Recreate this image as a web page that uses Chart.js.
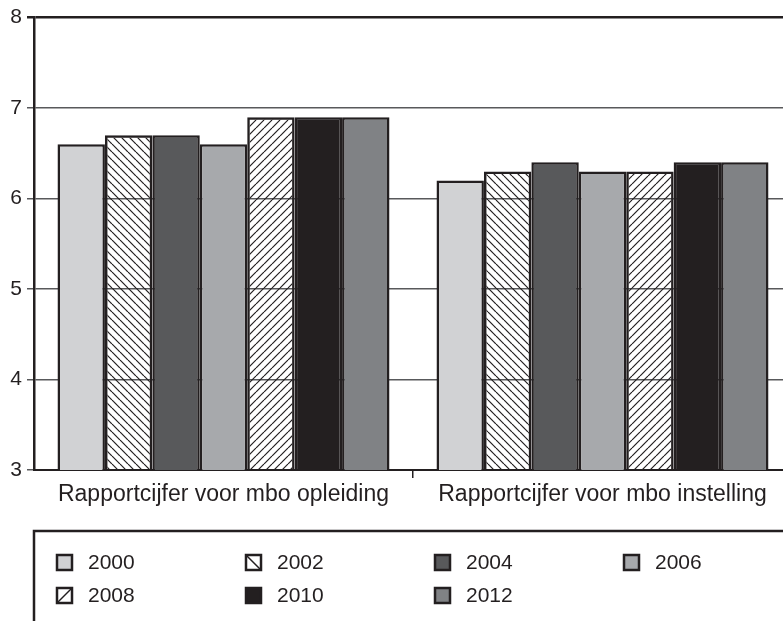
<!DOCTYPE html>
<html>
<head>
<meta charset="utf-8">
<script src="https://cdn.jsdelivr.net/npm/chart.js@4"></script>
<style>
  html, body { margin: 0; padding: 0; background: #fff; overflow: hidden; }
  #wrap { width: 800px; height: 621px; }
</style>
</head>
<body>
<div id="wrap"><canvas id="chart" width="800" height="621"></canvas></div>
<script>
// data
const categories = ['Rapportcijfer voor mbo opleiding', 'Rapportcijfer voor mbo instelling'];
const years = ['2000', '2002', '2004', '2006', '2008', '2010', '2012'];
const opleiding = [6.6, 6.7, 6.7, 6.6, 6.9, 6.9, 6.9];
const instelling = [6.2, 6.3, 6.4, 6.3, 6.3, 6.4, 6.4];
const yTicks = [3, 4, 5, 6, 7, 8];

// styles per year
const fills = ['#d1d2d4', 'back', '#58595b', '#a7a9ac', 'fwd', '#231f20', '#808285'];
const ink = '#231f20';
const font = '"Liberation Sans", Arial, sans-serif';

function hatch(dir) {
  const s = 8;
  const c = document.createElement('canvas');
  c.width = s; c.height = s;
  const g = c.getContext('2d');
  g.strokeStyle = ink;
  g.lineWidth = 1.2;
  for (let k = -1; k <= 1; k++) {
    g.beginPath();
    if (dir === 'back') {
      g.moveTo(k * s, 0); g.lineTo(k * s + s, s);
    } else {
      g.moveTo(k * s, s); g.lineTo(k * s + s, 0);
    }
    g.stroke();
  }
  return g.createPattern(c, 'repeat');
}

function fillFor(f) {
  return (f === 'back' || f === 'fwd') ? hatch(f) : f;
}

const datasets = years.map((y, i) => ({
  label: y,
  data: [opleiding[i], instelling[i]],
  backgroundColor: fillFor(fills[i]),
  borderColor: ink,
  borderWidth: 2.5,
  borderSkipped: false,
  barPercentage: 1,
  categoryPercentage: 0.876
}));

const legendBox = {
  id: 'legendBox',
  afterDraw(chart) {
    const ctx = chart.ctx;
    const left = chart.chartArea.left;
    const top = 531;
    ctx.save();
    ctx.strokeStyle = ink;
    ctx.lineWidth = 2.5;
    ctx.beginPath();
    ctx.moveTo(left, chart.height + 5);
    ctx.lineTo(left, top);
    ctx.lineTo(chart.width + 5, top);
    ctx.stroke();

    ctx.font = '21px ' + font;
    ctx.textBaseline = 'middle';
    ctx.textAlign = 'left';
    years.forEach((y, i) => {
      const col = i % 4, row = Math.floor(i / 4);
      const x = 56 + col * 189;
      const cy = 562.5 + row * 33;
      const sz = 15;
      const bx = x + 1, by = cy - sz / 2;
      const f = fills[i];
      if (f === 'back' || f === 'fwd') {
        ctx.fillStyle = '#fff';
        ctx.fillRect(bx, by, sz, sz);
        ctx.beginPath();
        ctx.lineWidth = 1.5;
        if (f === 'back') { ctx.moveTo(bx, by); ctx.lineTo(bx + sz, by + sz); }
        else { ctx.moveTo(bx, by + sz); ctx.lineTo(bx + sz, by); }
        ctx.stroke();
      } else {
        ctx.fillStyle = f;
        ctx.fillRect(bx, by, sz, sz);
      }
      ctx.lineWidth = 2.5;
      ctx.strokeRect(bx, by, sz, sz);
      ctx.fillStyle = ink;
      ctx.fillText(y, x + 32, cy + 1);
    });
    ctx.restore();
  }
};

new Chart(document.getElementById('chart'), {
  type: 'bar',
  data: { labels: categories, datasets: datasets },
  plugins: [legendBox],
  options: {
    responsive: false,
    animation: false,
    layout: { padding: { top: 16, right: 8, bottom: 0, left: 0 } },
    plugins: { legend: { display: false }, tooltip: { enabled: false } },
    scales: {
      x: {
        afterFit: (s) => { s.height = 151; },
        grid: {
          offset: true, drawOnChartArea: false, drawTicks: true, tickLength: 8, lineWidth: 1.5,
          color: (c) => c.index === 0 ? 'rgba(0,0,0,0)' : ink
        },
        border: { color: ink, width: 2 },
        ticks: { color: ink, padding: 3, font: { family: font, size: 23 }, maxRotation: 0 }
      },
      y: {
        min: 3, max: 8,
        afterFit: (s) => { s.width = 34; },
        afterBuildTicks: (s) => { s.ticks = yTicks.map(v => ({ value: v })); },
        grid: {
          color: (c) => c.tick && c.tick.value === 8 ? ink : '#58595b',
          lineWidth: (c) => c.tick && c.tick.value === 8 ? 2.5 : 1.5,
          tickLength: 7
        },
        border: { color: ink, width: 2.5 },
        ticks: { color: ink, padding: 5, font: { family: font, size: 21 } }
      }
    }
  }
});
</script>
</body>
</html>
